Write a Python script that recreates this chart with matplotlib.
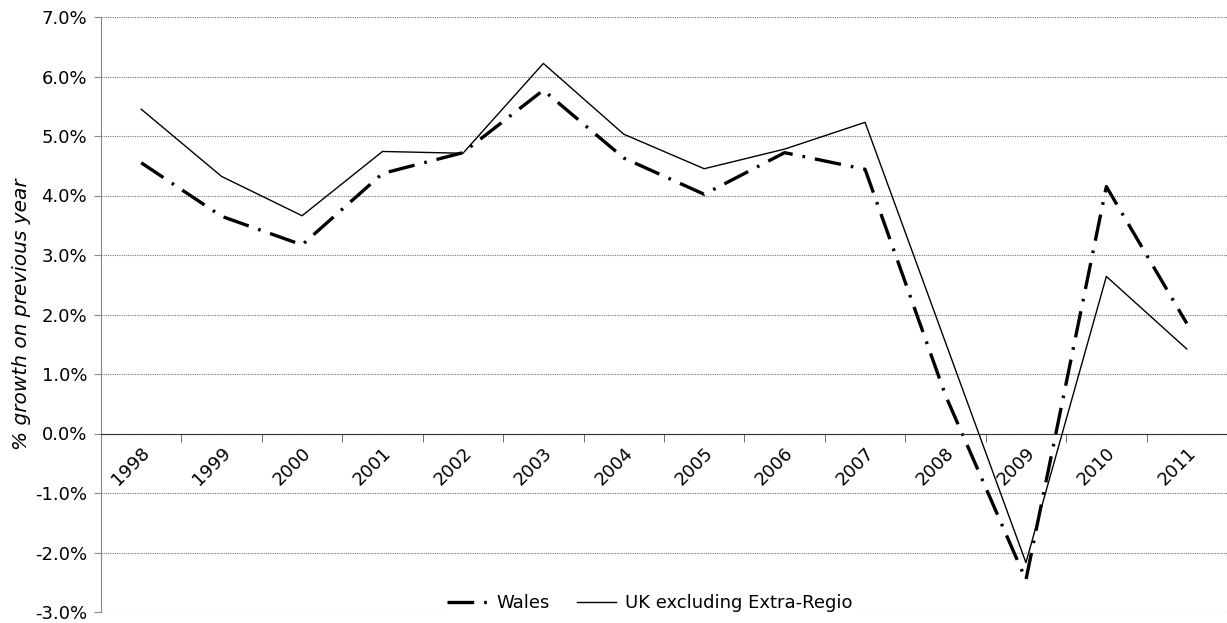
import matplotlib.pyplot as plt
import matplotlib.transforms as mtransforms
import numpy as np
from matplotlib.ticker import FuncFormatter

years = ["1998", "1999", "2000", "2001", "2002", "2003", "2004",
         "2005", "2006", "2007", "2008", "2009", "2010", "2011"]

# annual % growth
wales = [4.55, 3.65, 3.17, 4.37, 4.72, 5.77, 4.63,
         4.02, 4.72, 4.44, 0.64, -2.46, 4.15, 1.85]
uk_ex_extra_regio = [5.45, 4.32, 3.66, 4.74, 4.71, 6.22, 5.03,
                     4.45, 4.78, 5.23, 1.53, -2.17, 2.64, 1.42]

plt.rcParams['font.family'] = 'DejaVu Sans'
plt.rcParams['font.size'] = 13

fig = plt.figure(figsize=(12.27, 6.23), dpi=100)
ax = fig.add_axes([101 / 1227, 1 - 612 / 623, 1 - 101 / 1227, (612 - 17) / 623])

# spine first: moving it resets the tick objects
ax.spines['top'].set_visible(False)
ax.spines['right'].set_visible(False)
ax.spines['bottom'].set_position(('data', 0))
ax.spines['bottom'].set_color('#333333')
ax.spines['left'].set_color('#888888')

x = np.arange(len(years))
ax.plot(x, wales, color='black', lw=2.4, dashes=(8, 3, 0.8, 3),
        label='Wales')
ax.plot(x, uk_ex_extra_regio, color='black', lw=1.0,
        label='UK excluding Extra-Regio')

ax.set_xlim(-0.5, len(years) - 0.5)
ax.set_ylim(-3, 7)
ax.set_yticks(np.arange(-3, 7.01, 1))
ax.yaxis.set_major_formatter(FuncFormatter(lambda v, p: f"{v:.1f}%"))
ax.grid(axis='y', color='#777777', linestyle=(0, (1, 1)), lw=0.8)
ax.set_axisbelow(True)

# category labels at the centres, tick marks between categories
ax.set_xticks(x)
ax.set_xticklabels(years)
ax.set_xticks(np.arange(-0.5, len(years), 1), minor=True)
ax.tick_params(axis='x', which='major', length=0, pad=12)
ax.tick_params(axis='x', which='minor', length=6, color='#555555', direction='out')
ax.tick_params(axis='y', length=5, color='#888888', pad=5)

shift = mtransforms.ScaledTranslation(6 / 100, 0, fig.dpi_scale_trans)
for lbl in ax.get_xticklabels():
    lbl.set_rotation(45)
    lbl.set_rotation_mode('anchor')
    lbl.set_ha('right')
    lbl.set_va('center')
    lbl.set_transform(lbl.get_transform() + shift)

ax.set_ylabel('% growth on previous year', style='italic', fontsize=14.5,
              labelpad=3)

leg = ax.legend(loc='center', bbox_to_anchor=(0.4876, 0.015), ncol=2,
                frameon=True, fancybox=False, edgecolor='none',
                framealpha=1, handlelength=2.2, handletextpad=0.5,
                columnspacing=1.5, borderpad=0.2, fontsize=13)

fig.savefig("out.png", dpi=100)
